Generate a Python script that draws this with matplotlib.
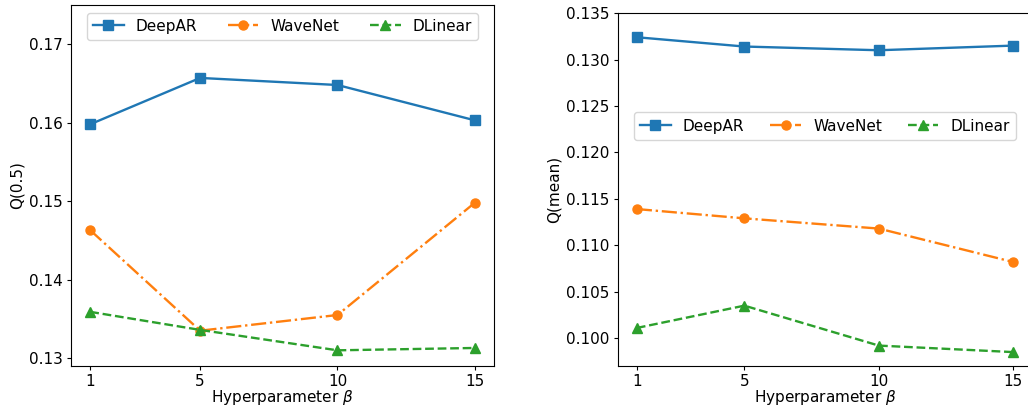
import matplotlib
matplotlib.use('Agg')
import matplotlib.pyplot as plt

betas = [1, 5, 10, 15]
models = ['DeepAR', 'WaveNet', 'DLinear']

# Q(0.5) per model
q50_deepar = [0.1598, 0.1657, 0.1648, 0.1603]
q50_wavenet = [0.1463, 0.1335, 0.1355, 0.1498]
q50_dlinear = [0.1359, 0.1336, 0.1310, 0.1313]

# Q(mean) per model
qmean_deepar = [0.1324, 0.1314, 0.1310, 0.1315]
qmean_wavenet = [0.1139, 0.1129, 0.1118, 0.1082]
qmean_dlinear = [0.1011, 0.1035, 0.0992, 0.0985]

styles = [
    dict(color='#1f77b4', marker='s', linestyle='-'),
    dict(color='#ff7f0e', marker='o', linestyle='-.'),
    dict(color='#2ca02c', marker='^', linestyle='--'),
]

fig = plt.figure(figsize=(10.28, 4.08), dpi=100)
ax1 = fig.add_axes([0.0691, 0.1029, 0.4115, 0.885])
ax2 = fig.add_axes([0.6012, 0.1029, 0.4027, 0.865])

for ax, series, ylabel in [
    (ax1, [q50_deepar, q50_wavenet, q50_dlinear], 'Q(0.5)'),
    (ax2, [qmean_deepar, qmean_wavenet, qmean_dlinear], 'Q(mean)'),
]:
    for name, vals, st in zip(models, series, styles):
        ax.plot(betas, vals, label=name, linewidth=1.7, markersize=6.5, **st)
    ax.set_xticks(betas)
    ax.tick_params(labelsize=11, length=3, pad=3)
    ax.set_xlabel(r'Hyperparameter $\beta$', fontsize=11, labelpad=-1)
    ax.set_ylabel(ylabel, fontsize=11, labelpad=3)

ax1.set_ylim(0.129, 0.175)
ax1.set_yticks([0.13, 0.14, 0.15, 0.16, 0.17])
ax2.set_ylim(0.097, 0.135)
ax2.set_yticks([0.100, 0.105, 0.110, 0.115, 0.120, 0.125, 0.130, 0.135])
ax2.set_yticklabels([f'{t:.3f}' for t in ax2.get_yticks()])

ax1.legend(loc='upper center', ncol=3, fontsize=11, columnspacing=2.0)
ax2.legend(loc='center', bbox_to_anchor=(0.5, 0.68), ncol=3, fontsize=11, columnspacing=1.7)

fig.savefig('out.png', dpi=100)
